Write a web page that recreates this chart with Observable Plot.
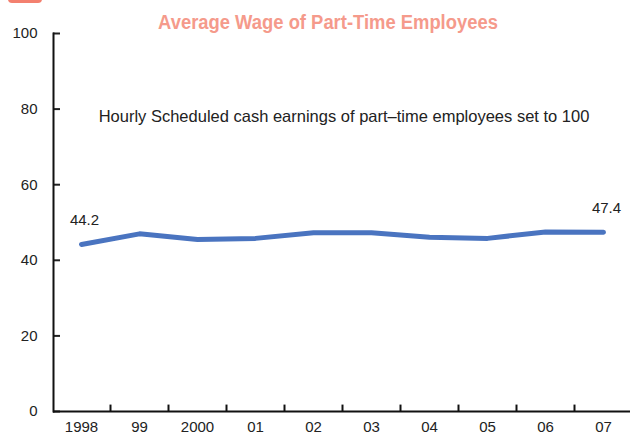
<!DOCTYPE html>
<html><head><meta charset="utf-8">
<script src="https://cdn.jsdelivr.net/npm/d3@7"></script>
<script src="https://cdn.jsdelivr.net/npm/@observablehq/plot@0.6"></script>
<style>
body{margin:0;background:#fff;}
#wrap{position:relative;width:630px;height:441px;overflow:hidden;font-family:"Liberation Sans",Arial,sans-serif;}
#title{position:absolute;top:11px;left:0;width:656px;text-align:center;color:#f59a8b;font-family:"Liberation Sans",Arial,sans-serif;font-weight:bold;font-size:20px;transform:scaleX(0.92);transform-origin:328px 0;}
#tab{position:absolute;left:8px;top:-6px;width:34px;height:9px;background:#f3806f;border-radius:4px;}
#chart{position:absolute;left:0;top:0;}
</style></head>
<body>
<div id="wrap">
  <div id="tab"></div>
  <div id="title">Average Wage of Part-Time Employees</div>
  <div id="chart"></div>
</div>
<script>
const years = ["1998","99","2000","01","02","03","04","05","06","07"];
const values = [44.2, 47.0, 45.5, 45.8, 47.3, 47.3, 46.1, 45.8, 47.5, 47.4];
const yTicks = [0, 20, 40, 60, 80, 100];
const labelYears = ["1998", "07"];
const subtitle = "Hourly Scheduled cash earnings of part\u2013time employees set to 100";

const data = years.map((y, i) => ({year: y, value: values[i]}));
const endpoints = data.filter(d => labelYears.includes(d.year));

const chart = Plot.plot({
  width: 630,
  height: 441,
  marginTop: 33,
  marginBottom: 30,
  marginLeft: 53,
  marginRight: 0,
  style: {fontFamily: "'Liberation Sans', Arial, sans-serif", fontSize: "15px", color: "#222", background: "transparent", overflow: "visible"},
  x: {type: "point", domain: years, padding: 0.43, label: null},
  y: {domain: [0, 100], label: null},
  marks: [
    Plot.axisY({ticks: yTicks, tickSize: 0, tickPadding: 16, fontSize: 15, fill: "#222"}),
    Plot.axisY({ticks: yTicks, tickSize: -7, strokeWidth: 2, tickFormat: () => ""}),
    Plot.axisX({tickSize: 0, tickPadding: 10, fontSize: 15, fill: "#222"}),
    Plot.ruleX(years.slice(1), {y1: 0, y2: 1.7, dx: -29, strokeWidth: 2, stroke: "#111"}),
    Plot.ruleY([0], {strokeWidth: 2, stroke: "#111"}),
    Plot.frame({anchor: "left", strokeWidth: 2, stroke: "#111"}),
    Plot.line(data, {x: "year", y: "value", stroke: "#4a74c0", strokeWidth: 5}),
    Plot.text(endpoints, {x: "year", y: "value", text: d => d.value.toFixed(1), dy: -24, dx: 3, fontSize: 15, fill: "#222"}),
    Plot.text([subtitle], {frameAnchor: "top", dy: 77, dx: 2, fontSize: 16.5, fill: "#222"})
  ]
});
document.getElementById("chart").appendChild(chart);
</script>
</body></html>
